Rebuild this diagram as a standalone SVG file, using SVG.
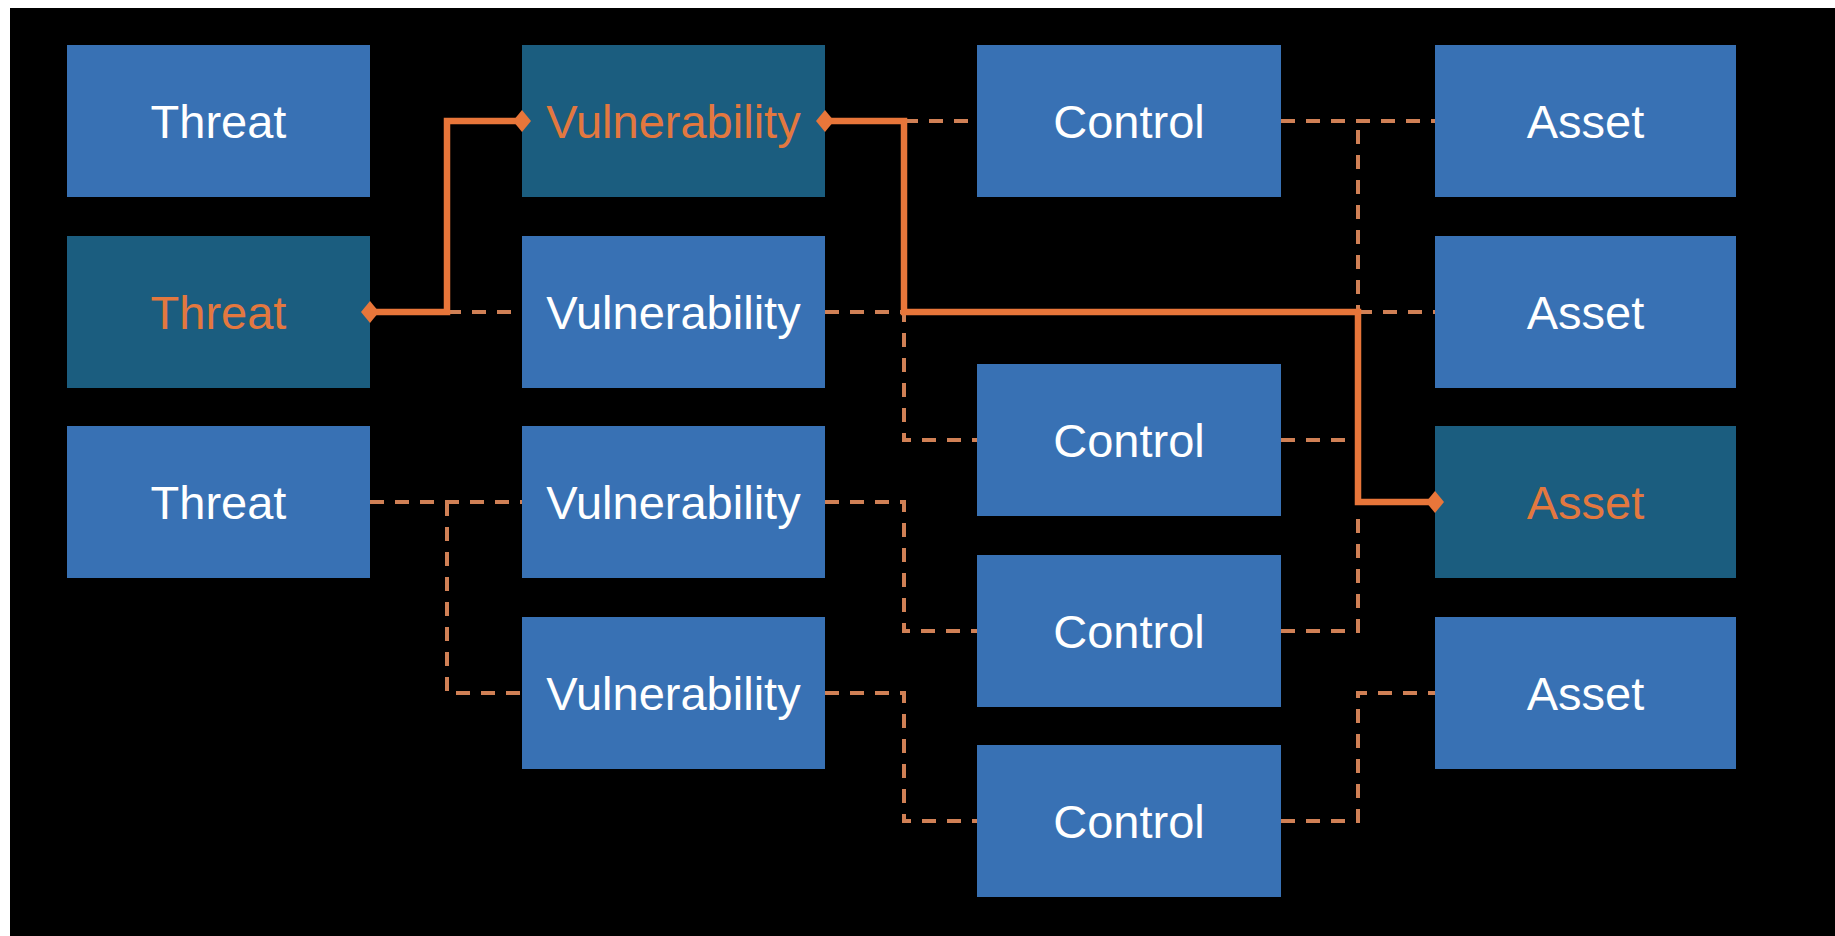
<svg xmlns="http://www.w3.org/2000/svg" xmlns:xlink="http://www.w3.org/1999/xlink" width="1835" height="936" viewBox="0 0 1835 936">
<style>
.box{fill:#3871b4}
.hl{fill:#1b5d7f}
.t{font-family:"Liberation Sans",Arial,Helvetica,sans-serif;font-size:47px;fill:#ffffff;text-anchor:middle}
.th{fill:#e3783f}
.solid{fill:none;stroke:#e8763a;stroke-width:6.5;stroke-linejoin:miter}
.dash{fill:none;stroke:#d08055;stroke-width:4;stroke-dasharray:14 11}
.dia{fill:#e8763a}
</style>
<defs>
<polygon id="dm" points="0,-11 9,0 0,11 -9,0"/>
</defs>
<rect x="0" y="0" width="1835" height="936" fill="#ffffff"/>
<rect x="10" y="8" width="1825" height="928" fill="#000000"/>
<g id="threat1"><rect class="box" x="67" y="45" width="303" height="152"/><text class="t" x="218.5" y="137.5">Threat</text></g>
<g id="threat2"><rect class="hl" x="67" y="236" width="303" height="152"/><text class="t th" x="218.5" y="328.5">Threat</text></g>
<g id="threat3"><rect class="box" x="67" y="426" width="303" height="152"/><text class="t" x="218.5" y="518.5">Threat</text></g>
<g id="vuln1"><rect class="hl" x="522" y="45" width="303" height="152"/><text class="t th" x="673.5" y="137.5">Vulnerability</text></g>
<g id="vuln2"><rect class="box" x="522" y="236" width="303" height="152"/><text class="t" x="673.5" y="328.5">Vulnerability</text></g>
<g id="vuln3"><rect class="box" x="522" y="426" width="303" height="152"/><text class="t" x="673.5" y="518.5">Vulnerability</text></g>
<g id="vuln4"><rect class="box" x="522" y="617" width="303" height="152"/><text class="t" x="673.5" y="709.5">Vulnerability</text></g>
<g id="control1"><rect class="box" x="977" y="45" width="304" height="152"/><text class="t" x="1129" y="137.5">Control</text></g>
<g id="control2"><rect class="box" x="977" y="364" width="304" height="152"/><text class="t" x="1129" y="456.5">Control</text></g>
<g id="control3"><rect class="box" x="977" y="555" width="304" height="152"/><text class="t" x="1129" y="647.5">Control</text></g>
<g id="control4"><rect class="box" x="977" y="745" width="304" height="152"/><text class="t" x="1129" y="837.5">Control</text></g>
<g id="asset1"><rect class="box" x="1435" y="45" width="301" height="152"/><text class="t" x="1585.5" y="137.5">Asset</text></g>
<g id="asset2"><rect class="box" x="1435" y="236" width="301" height="152"/><text class="t" x="1585.5" y="328.5">Asset</text></g>
<g id="asset3"><rect class="hl" x="1435" y="426" width="301" height="152"/><text class="t th" x="1585.5" y="518.5">Asset</text></g>
<g id="asset4"><rect class="box" x="1435" y="617" width="301" height="152"/><text class="t" x="1585.5" y="709.5">Asset</text></g>
<g id="connectors">
<path class="dash" d="M447,312 H522"/>
<path class="dash" d="M904,121 H977"/>
<path class="dash" d="M1281,121 H1435"/>
<path class="dash" d="M1358,130 V312"/>
<path class="dash" d="M1358,312 H1435"/>
<path class="dash" d="M825,312 H904 V440 H977"/>
<path class="dash" d="M1281,440 H1358"/>
<path class="dash" d="M825,502 H904 V631 H977"/>
<path class="dash" d="M1281,631 H1358 V508"/>
<path class="dash" d="M370,502 H522"/>
<path class="dash" d="M447,502 V693 H522"/>
<path class="dash" d="M825,693 H904 V821 H977"/>
<path class="dash" d="M1281,821 H1358 V693 H1435"/>
<path class="solid" d="M370,312 H447 V121 H522"/>
<path class="solid" d="M825,121 H904 V312 H1358 V502 H1435"/>
<use xlink:href="#dm" class="dia" x="370" y="312"/>
<use xlink:href="#dm" class="dia" x="522" y="121"/>
<use xlink:href="#dm" class="dia" x="825" y="121"/>
<use xlink:href="#dm" class="dia" x="1435" y="502"/>
</g>
</svg>
